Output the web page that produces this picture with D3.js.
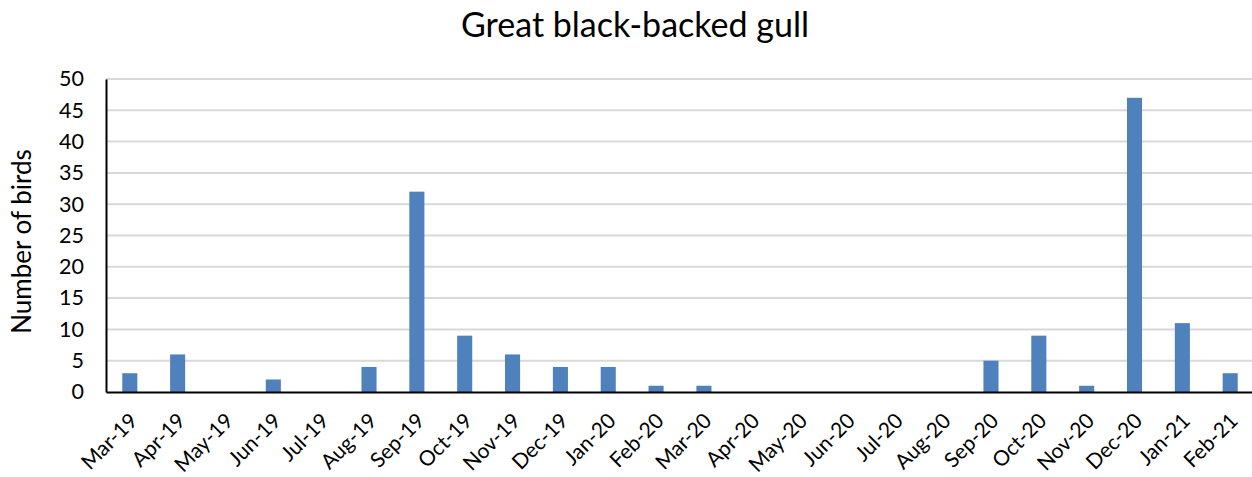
<!DOCTYPE html>
<html><head><meta charset="utf-8">
<script src="https://cdn.jsdelivr.net/npm/d3@7"></script>
<style>body{margin:0;background:#fff}svg{display:block}</style>
</head><body><svg id="c" width="1252" height="477"></svg>
<script>
const months = ["Mar-19","Apr-19","May-19","Jun-19","Jul-19","Aug-19","Sep-19","Oct-19","Nov-19","Dec-19","Jan-20","Feb-20","Mar-20","Apr-20","May-20","Jun-20","Jul-20","Aug-20","Sep-20","Oct-20","Nov-20","Dec-20","Jan-21","Feb-21"];
const birds = [3,6,0,2,0,4,32,9,6,4,4,1,1,0,0,0,0,0,5,9,1,47,11,3];
const yTicks = [0,5,10,15,20,25,30,35,40,45,50];
const title = "Great black-backed gull";
const yLabel = "Number of birds";

const font = "Lato, 'Open Sans', sans-serif";
const svg = d3.select("#c");
const mLeft = 106, mRight = 1254, mTop = 79, mBottom = 392;
const x = d3.scaleBand().domain(months).range([mLeft, mRight]).paddingInner(0.685).paddingOuter(0.34);
const y = d3.scaleLinear().domain([0, 50]).range([mBottom, mTop]);

// gridlines
svg.append("g").selectAll("line").data(yTicks.filter(d => d > 0)).join("line")
  .attr("x1", mLeft).attr("x2", mRight).attr("y1", d => y(d)).attr("y2", d => y(d))
  .attr("stroke", "#d9d9d9").attr("stroke-width", 2);

// bars
svg.append("g").selectAll("rect").data(months).join("rect")
  .attr("x", d => x(d)).attr("width", x.bandwidth())
  .attr("y", (d, i) => y(birds[i])).attr("height", (d, i) => y(0) - y(birds[i]))
  .attr("fill", "#4f81bd");

// y axis
const ya = svg.append("g").attr("transform", `translate(${mLeft},0)`)
  .call(d3.axisLeft(y).tickValues(yTicks).tickSize(0).tickPadding(22));
ya.select(".domain").attr("stroke", "#000").attr("stroke-width", 2);
ya.selectAll("text").attr("font-family", font).attr("font-size", 21.5).attr("fill", "#000");

// x axis
const xa = svg.append("g").attr("transform", `translate(0,${mBottom})`)
  .call(d3.axisBottom(x).tickSize(0).tickSizeOuter(0));
xa.select(".domain").attr("stroke", "#000").attr("stroke-width", 2);
xa.selectAll("text").attr("font-family", font).attr("font-size", 21).attr("fill", "#000")
  .attr("text-anchor", "end").attr("dy", null).attr("y", 0)
  .attr("transform", "translate(3,24) rotate(-45)").attr("dominant-baseline", "central");

// title
svg.append("text").attr("x", 635).attr("y", 37).attr("text-anchor", "middle")
  .attr("font-family", font).attr("font-size", 34).attr("fill", "#000").text(title);

// y label
svg.append("text").attr("transform", `translate(31,${(mTop + mBottom) / 2 + 6}) rotate(-90)`)
  .attr("text-anchor", "middle").attr("font-family", font).attr("font-size", 26).attr("fill", "#000").text(yLabel);
</script></body></html>
